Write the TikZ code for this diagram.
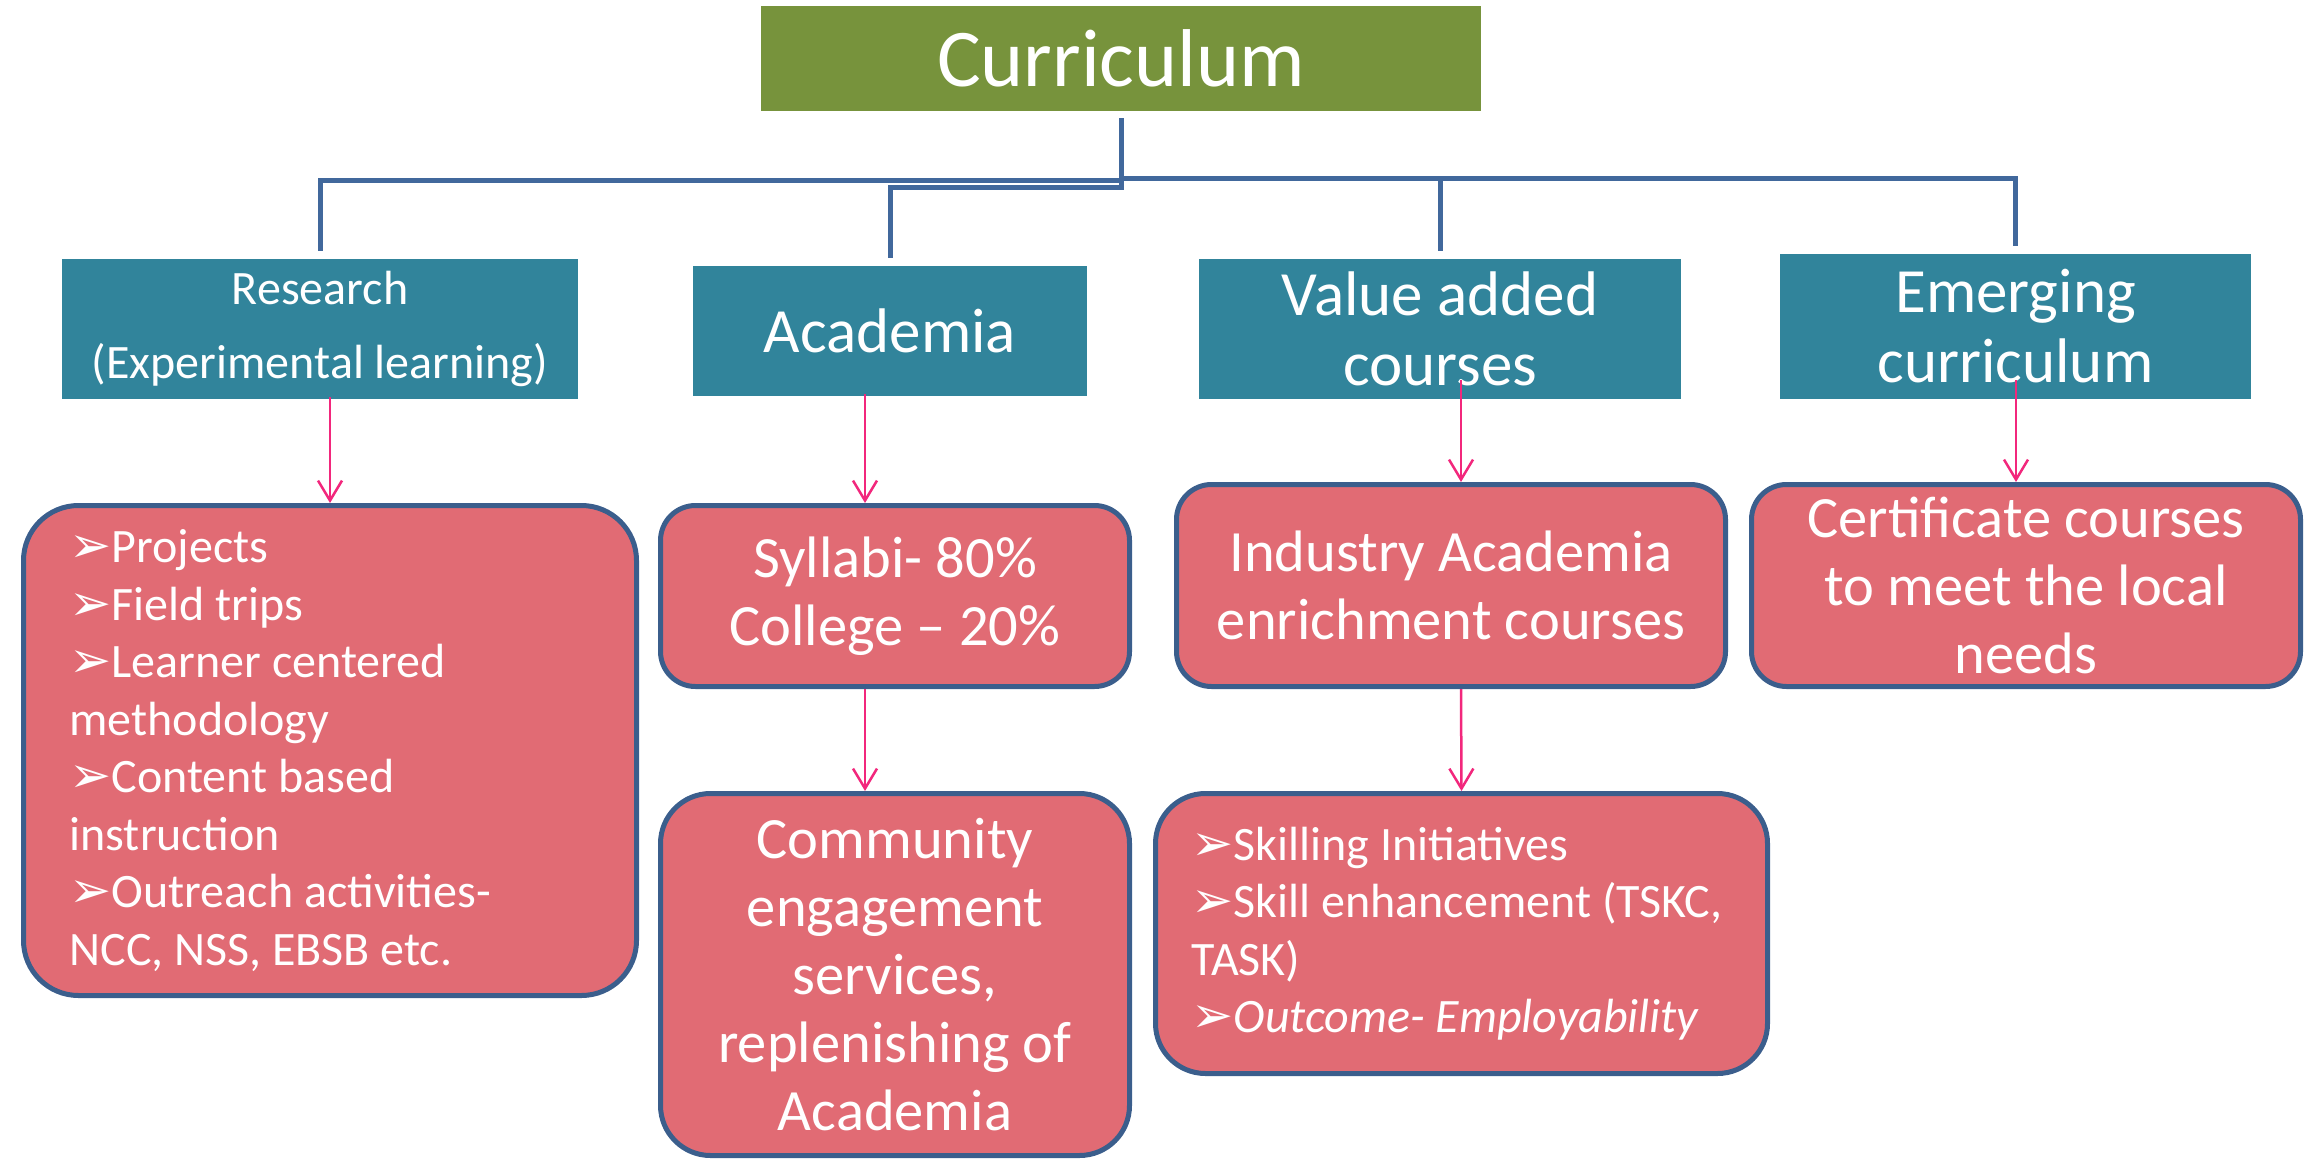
\documentclass[tikz,border=0pt]{standalone}
\usepackage{fontspec}
\setmainfont{Carlito}
\newfontfamily\bulletfont{DejaVu Sans}
\usetikzlibrary{arrows.meta,calc}
\definecolor{rootgreen}{HTML}{77933C}
\definecolor{headteal}{HTML}{31849B}
\definecolor{boxpink}{HTML}{E16B74}
\definecolor{boxedge}{HTML}{3B5E8C}
\definecolor{linkblue}{HTML}{41689C}
\definecolor{arrowpink}{HTML}{F2277C}
\newcommand{\pointer}{{\bulletfont\scalebox{1.05}{➢}}}
\tikzset{
	root/.style={
		fill=rootgreen, text=white, inner sep=0pt,
		minimum width=720pt, minimum height=105pt,
		font=\fontsize{82}{96}\selectfont},
	head/.style={
		fill=headteal, text=white, align=center, inner sep=0pt,
		font=\fontsize{63}{70}\selectfont},
	item/.style={
		fill=boxpink, draw=boxedge, line width=5pt, rounded corners=35pt,
		text=white, align=center, inner sep=0pt,
		font=\fontsize{58.5}{68}\selectfont},
	listitem/.style={
		item, align=flush left, rounded corners=55pt,
		font=\fontsize{48}{57.5}\selectfont},
	branch/.style={
		draw=linkblue, line width=5pt, shorten <=7pt, shorten >=8pt},
	feed/.style={
		draw=arrowpink, line width=2.5pt,
		-{Straight Barb[length=20pt,width=24pt,line width=2.5pt]}}
}

\begin{document}
\begin{tikzpicture}[x=1pt,y=1pt,yscale=-1]
\useasboundingbox (0,0) rectangle (2318,1161);

% top
\node (cur) at (1121,58.5) [root] {Curriculum};

% teal headers
\node (res) at (320,329) [head, minimum width=516pt, minimum height=140pt,
	font=\fontsize{48}{74}\selectfont] {Research\\(Experimental learning)};
\node (aca) at (890,331) [head, minimum width=394pt, minimum height=130pt] {Academia};
\node (val) at (1440,329) [head, minimum width=482pt, minimum height=140pt] {Value added\\courses};
\node (eme) at (2015.5,326.5) [head, minimum width=471pt, minimum height=145pt] {Emerging\\curriculum};

% pink boxes
\node (resl) at (330,750.5) [listitem, minimum width=613pt, minimum height=490pt,
	text width=521pt, inner xsep=46pt] {\pointer Projects\\
\pointer Field trips\\
\pointer Learner centered\\
methodology\\
\pointer Content based\\
instruction\\
\pointer Outreach activities-\\
NCC, NSS, EBSB etc.};
\node (syl) at (895,596) [item, minimum width=469pt, minimum height=181pt] {Syllabi- 80\%\\College -- 20\%};
\node (com) at (895,974.5) [item, rounded corners=50pt, minimum width=469pt, minimum height=362pt]
	{Community\\engagement\\services,\\replenishing of\\Academia};
\node (ind) at (1451,585.5) [item, minimum width=549pt, minimum height=202pt] {Industry Academia\\enrichment courses};
\node (cer) at (2026,585.5) [item, minimum width=549pt, minimum height=202pt] {Certificate courses\\to meet the local\\needs};
\node (ski) at (1461.5,933.5) [listitem, rounded corners=50pt, minimum width=612pt, minimum height=280pt,
	text width=540pt, inner xsep=36pt] {\pointer Skilling Initiatives\\
\pointer Skill enhancement (TSKC,\\
TASK)\\
{\itshape\pointer Outcome- Employability}};

% blue elbows
\draw[branch] (cur.south) -- ++(0,69) -| (res.north);
\draw[branch] (cur.south) -- ++(0,76) -| (aca.north);
\draw[branch] (cur.south) -- ++(0,67) -| (val.north);
\draw[branch] (cur.south) -- ++(0,67) -| (eme.north);

% pink arrows
\draw[feed] ($(res.south)+(10,-2)$) -- (resl.north);
\draw[feed] ($(aca.south)+(-25,-2)$) -- ($(syl.north)+(-30,0)$);
\draw[feed] ($(syl.south)+(-30,0)$) -- ($(com.north)+(-30,0)$);
\draw[feed] ($(val.south)+(21,-19)$) -- ($(ind.north)+(10,0)$);
\draw[feed] ($(ind.south)+(10,0)$) -- (ski.north);
\draw[feed] ($(eme.south)+(0.5,-19)$) -- ($(cer.north)+(-10,0)$);
\end{tikzpicture}
\end{document}
